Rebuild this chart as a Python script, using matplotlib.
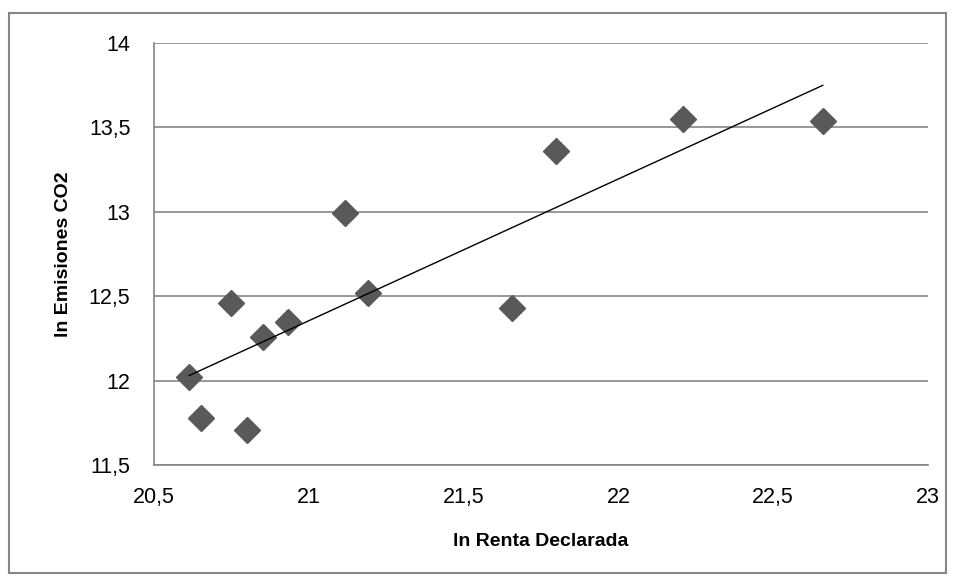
import numpy as np
import matplotlib.pyplot as plt
from matplotlib.patches import Rectangle
from matplotlib.ticker import FuncFormatter

plt.rcParams['font.family'] = ['Liberation Sans', 'DejaVu Sans']

# ln renta declarada vs ln emisiones CO2
ln_renta = [20.613, 20.652, 20.750, 20.800, 20.852, 20.933,
            21.117, 21.190, 21.656, 21.800, 22.208, 22.660]
ln_co2 = [12.02, 11.78, 12.46, 11.71, 12.26, 12.35,
          12.99, 12.52, 12.43, 13.36, 13.55, 13.54]

x_ticks = [20.5, 21, 21.5, 22, 22.5, 23]
y_ticks = [11.5, 12, 12.5, 13, 13.5, 14]

x = np.array(ln_renta)
y = np.array(ln_co2)
slope, intercept = np.polyfit(x, y, 1)
xs = np.array([x.min(), x.max()])

fig = plt.figure(figsize=(9.56, 5.81), dpi=100)
ax = fig.add_axes([154 / 956, 1 - 465 / 581, (928 - 154) / 956, (465 - 43) / 581])

# chart border like Excel
fig.patches.append(Rectangle((9 / 956, 1 - 573 / 581), (946 - 9) / 956, (573 - 13) / 581,
                             transform=fig.transFigure, fill=False,
                             edgecolor='#868686', linewidth=1.5))

ax.plot(x, y, linestyle='none', marker='D', markersize=13,
        color='#595959', markeredgecolor='#595959', zorder=3)
ax.plot(xs, slope * xs + intercept, color='black', linewidth=1, zorder=4)

ax.set_xlim(20.5, 23)
ax.set_ylim(11.5, 14)
ax.set_xticks(x_ticks)
ax.set_yticks(y_ticks)
comma = FuncFormatter(lambda v, p: ('%g' % v).replace('.', ','))
ax.xaxis.set_major_formatter(comma)
ax.yaxis.set_major_formatter(comma)
ax.tick_params(length=0, labelsize=15.5)
ax.tick_params(axis='y', pad=17)
ax.tick_params(axis='x', pad=16)

ax.grid(axis='y', color='#868686', linewidth=1.2)
ax.set_axisbelow(True)
for s in ['top', 'right']:
    ax.spines[s].set_visible(False)
for s in ['left', 'bottom']:
    ax.spines[s].set_color('#868686')
    ax.spines[s].set_linewidth(1.2)

ax.set_xlabel('ln Renta Declarada', fontsize=14, fontweight='bold', labelpad=18)
ax.set_ylabel('ln Emisiones CO2', fontsize=14, fontweight='bold', labelpad=12)

fig.savefig('out.png', dpi=100)
